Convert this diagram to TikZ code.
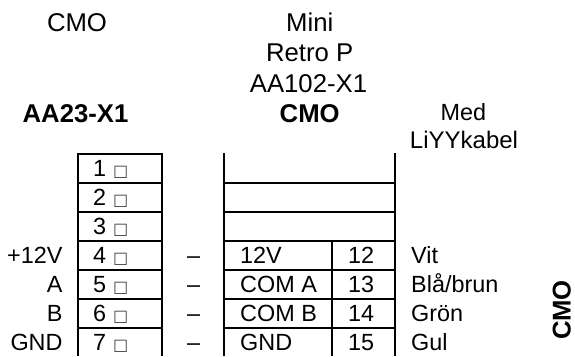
\documentclass[tikz,border=0pt]{standalone}
\usepackage{fontspec}
\setmainfont{Liberation Sans}
\newfontfamily\symfont{DejaVu Sans}
\newcommand{\boxglyph}{{\symfont\fontsize{16}{16}\selectfont\textcolor{black!75}{□}}}
\tikzset{
  txt/.style={inner sep=0pt,anchor=base west,font=\fontsize{23.4}{28}\selectfont},
  rtxt/.style={txt,anchor=base east},
  ctxt/.style={txt,anchor=base},
  htxt/.style={ctxt,font=\fontsize{25.7}{30}\selectfont},
  btxt/.style={ctxt,font=\fontsize{25.7}{30}\selectfont\bfseries},
  rule/.style={line width=1.8pt,line cap=butt}
}
\begin{document}
\begin{tikzpicture}[x=1pt,y=-1pt]
\useasboundingbox (0,0) rectangle (575,356);
% left box
\draw[rule] (77.7,356) -- (77.7,153.7) -- (161.7,153.7) -- (161.7,356);
\foreach \y in {182.7,211.7,240.7,269.7,298.7,327.7}{
  \draw[rule] (77.7,\y) -- (161.7,\y);
  \draw[rule] (223.7,\y) -- (394.7,\y);
}
\draw[rule] (223.7,153) -- (223.7,356);
\draw[rule] (394.7,153) -- (394.7,356);
\draw[rule] (332,240.7) -- (332,356);
% headers
\node[htxt] (h1) at (77,31) {CMO};
\node[htxt] (h2) at (309.7,31) {Mini};
\node[htxt] (h3) at (309.7,61.7) {Retro P};
\node[htxt] (h4) at (308.5,92.7) {AA102-X1};
\node[btxt] (h5) at (75.5,122.7) {AA23-X1};
\node[btxt] (h6) at (309.7,122.7) {CMO};
\node[ctxt] (h7) at (463.5,120.7) {Med};
\node[ctxt,font=\fontsize{24}{28}\selectfont] (h8) at (464,148.3) {LiYYkabel};
% pins
\foreach \n/\y in {1/176.7,2/205.7,3/234.7,4/263.7,5/292.7,6/321.7,7/350.7}{
  \node[txt] (p\n) at (93,\y) {\n};
  \node[txt] (s\n) at (113,\y) {\boxglyph};
}
\node[rtxt] (l4) at (62.7,263.7) {+12V};
\node[rtxt] (l5) at (62.7,292.7) {A};
\node[rtxt] (l6) at (62.7,321.7) {B};
\node[rtxt] (l7) at (62.7,350.7) {GND};
\foreach \n/\y/\a/\b/\c in {4/263.7/12V/12/Vit,5/292.7/COM A/13/Blå\slash brun,6/321.7/COM B/14/Grön,7/350.7/GND/15/Gul}{
  \node[txt] (d\n) at (187,\y) {–};
  \node[txt] (a\n) at (240,\y) {\a};
  \node[txt] (b\n) at (348,\y) {\b};
  \node[txt] (c\n) at (411,\y) {\c};
}
\node[btxt,rotate=90,anchor=base] (v) at (570.5,310) {CMO};
\end{tikzpicture}
\end{document}
